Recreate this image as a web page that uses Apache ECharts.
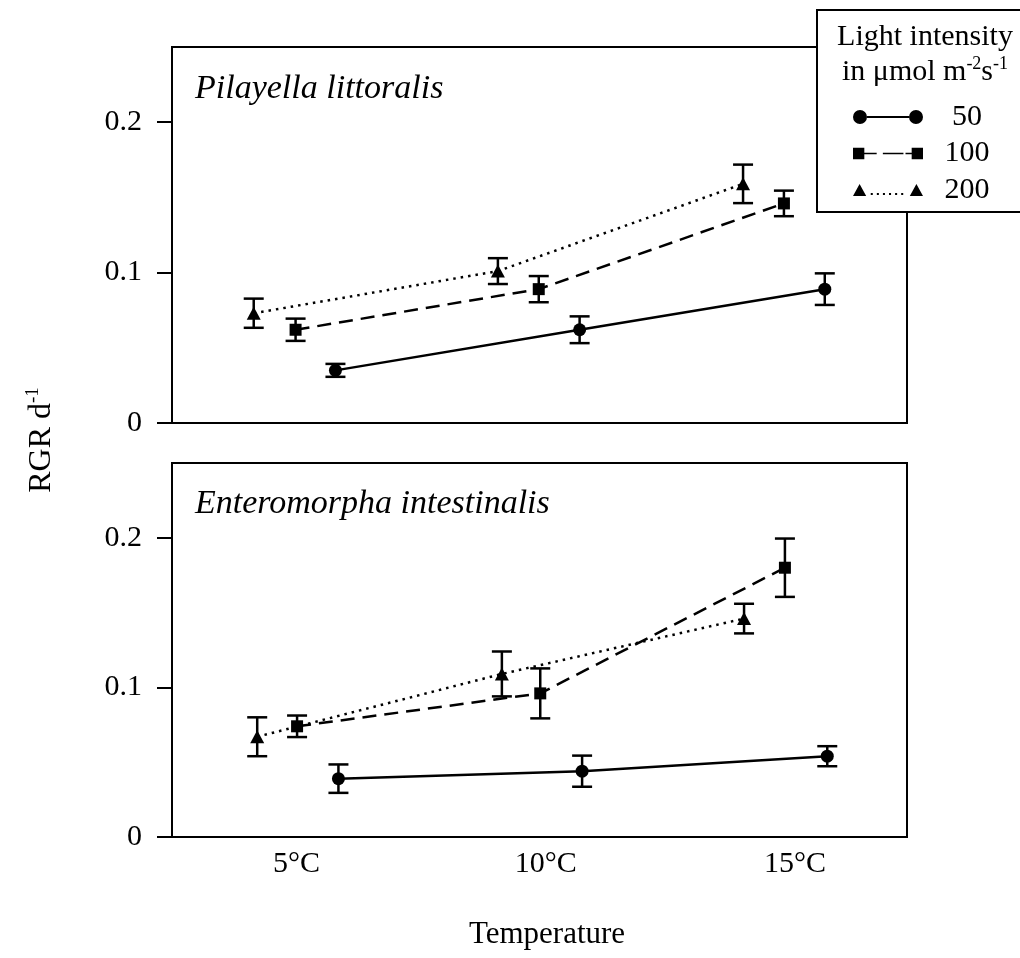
<!DOCTYPE html>
<html>
<head>
<meta charset="utf-8">
<script src="https://cdn.jsdelivr.net/npm/echarts@6/dist/echarts.min.js"></script>
<style>
  html, body { margin: 0; padding: 0; background: #fff; }
  #chart { width: 1020px; height: 958px; }
</style>
</head>
<body>
<div id="chart"></div>
<script>
const SERIF = "'Liberation Serif', 'Times New Roman', serif";

// Categories and tick labels
const lightLevels = ['50', '100', '200'];
const tempTicks = [5, 10, 15];
const tempTickLabels = ['5°C', '10°C', '15°C'];
const rgrTicks = [0, 0.1, 0.2];
const speciesNames = ['Pilayella littoralis', 'Enteromorpha intestinalis'];

// Pilayella littoralis: plotted temperature position, mean RGR, standard error
const pilX50 = [5.78, 10.68, 15.6];
const pilRGR50 = [0.035, 0.062, 0.089];
const pilSE50 = [0.0043, 0.0089, 0.0105];
const pilX100 = [4.98, 9.86, 14.78];
const pilRGR100 = [0.062, 0.089, 0.146];
const pilSE100 = [0.0074, 0.0087, 0.0085];
const pilX200 = [4.14, 9.04, 13.96];
const pilRGR200 = [0.073, 0.101, 0.159];
const pilSE200 = [0.0097, 0.0086, 0.0128];

// Enteromorpha intestinalis
const entX50 = [5.84, 10.73, 15.65];
const entRGR50 = [0.039, 0.044, 0.054];
const entSE50 = [0.0095, 0.0104, 0.0067];
const entX100 = [5.01, 9.89, 14.8];
const entRGR100 = [0.074, 0.096, 0.180];
const entSE100 = [0.0072, 0.0167, 0.0195];
const entX200 = [4.21, 9.12, 13.98];
const entRGR200 = [0.067, 0.109, 0.146];
const entSE200 = [0.0130, 0.0150, 0.0099];

const panels = [
  { '50': [pilX50, pilRGR50, pilSE50], '100': [pilX100, pilRGR100, pilSE100], '200': [pilX200, pilRGR200, pilSE200] },
  { '50': [entX50, entRGR50, entSE50], '100': [entX100, entRGR100, entSE100], '200': [entX200, entRGR200, entSE200] }
];

// Marker and line look for each light level
const levelStyle = {
  '50':  { symbol: 'circle',   symbolSize: 13,       lineType: 'solid',   lineWidth: 2.5 },
  '100': { symbol: 'rect',     symbolSize: 12,       lineType: [14, 8],   lineWidth: 2.5 },
  '200': { symbol: 'triangle', symbolSize: [14, 13], lineType: [2.5, 5],  lineWidth: 2.5 }
};

// Legend icons: marker at each end with the series line between
const legendIcons = {
  '50': 'path://M0,7A7,7,0,1,1,14,7A7,7,0,1,1,0,7Z M56,7A7,7,0,1,1,70,7A7,7,0,1,1,56,7Z M14,6H56V8H14Z',
  '100': 'path://M1,1.5H12V12.5H1Z M58,1.5H69V12.5H58Z M12,6.2H24V7.8H12Z M30,6.2H50V7.8H30Z M52,6.2H58V7.8H52Z',
  '200': 'path://M0.5,13L7,1L13.5,13Z M56.5,13L63,1L69.5,13Z M18,10H20V12H18Z M24,10H26V12H24Z M30,10H32V12H30Z M36,10H38V12H36Z M42,10H44V12H42Z M48,10H50V12H48Z'
};

function errorBars(name, xs, ys, se, gi) {
  return {
    type: 'custom',
    name: name,
    xAxisIndex: gi,
    yAxisIndex: gi,
    silent: true,
    z: 3,
    data: xs.map((x, i) => [x, ys[i] - se[i], ys[i] + se[i]]),
    renderItem: function (params, api) {
      const lo = api.coord([api.value(0), api.value(1)]);
      const hi = api.coord([api.value(0), api.value(2)]);
      const hw = 10;
      const st = { stroke: '#000', lineWidth: 2.5 };
      return {
        type: 'group',
        children: [
          { type: 'line', shape: { x1: lo[0], y1: lo[1], x2: hi[0], y2: hi[1] }, style: st },
          { type: 'line', shape: { x1: lo[0] - hw, y1: lo[1], x2: lo[0] + hw, y2: lo[1] }, style: st },
          { type: 'line', shape: { x1: hi[0] - hw, y1: hi[1], x2: hi[0] + hw, y2: hi[1] }, style: st }
        ]
      };
    }
  };
}

const series = [];
panels.forEach((panel, gi) => {
  lightLevels.forEach(level => {
    const [xs, ys, se] = panel[level];
    const s = levelStyle[level];
    series.push({
      type: 'line',
      name: level,
      xAxisIndex: gi,
      yAxisIndex: gi,
      data: xs.map((x, i) => [x, ys[i]]),
      symbol: s.symbol,
      symbolSize: s.symbolSize,
      showAllSymbol: true,
      itemStyle: { color: '#000', borderWidth: 0 },
      lineStyle: { color: '#000', width: s.lineWidth, type: s.lineType },
      z: 4
    });
    series.push(errorBars(level, xs, ys, se, gi));
  });
});

const gridBase = { left: 172, width: 735, show: true, borderColor: '#000', borderWidth: 2,
  backgroundColor: 'transparent', containLabel: false, outerBoundsMode: 'none' };

const labelFont = { fontFamily: SERIF, fontSize: 30, color: '#000' };

function xAxisFor(gi, showLabels) {
  return {
    type: 'value', gridIndex: gi, min: 2.5, max: 17.25,
    axisLine: { show: false }, axisTick: { show: false }, splitLine: { show: false },
    axisLabel: Object.assign({
      show: showLabels, margin: 12,
      customValues: tempTicks,
      formatter: v => tempTickLabels[tempTicks.indexOf(v)] || ''
    }, labelFont)
  };
}

function yAxisFor(gi) {
  return {
    type: 'value', gridIndex: gi, min: 0, max: 0.25,
    axisLine: { show: false }, splitLine: { show: false },
    axisTick: { show: true, inside: false, length: 15, customValues: rgrTicks,
      lineStyle: { color: '#000', width: 2 } },
    axisLabel: Object.assign({
      margin: 30, customValues: rgrTicks,
      formatter: v => (v === 0 ? '0' : v.toFixed(1))
    }, labelFont)
  };
}

const titleStyle = { fontFamily: SERIF, fontStyle: 'italic', fontWeight: 'normal', fontSize: 34, color: '#000' };

const option = {
  backgroundColor: '#fff',
  animation: false,
  title: [
    { text: speciesNames[0], left: 195, top: 72, padding: 0, textStyle: titleStyle },
    { text: speciesNames[1], left: 195, top: 487, padding: 0, textStyle: titleStyle }
  ],
  grid: [
    Object.assign({ top: 47, height: 376 }, gridBase),
    Object.assign({ top: 463, height: 374 }, gridBase)
  ],
  xAxis: [xAxisFor(0, false), xAxisFor(1, true)],
  yAxis: [yAxisFor(0), yAxisFor(1)],
  legend: {
    orient: 'vertical',
    left: 853,
    top: 102,
    padding: 0,
    itemWidth: 70,
    itemHeight: 14,
    itemGap: 6.5,
    z: 20,
    itemStyle: { borderWidth: 0 },
    data: lightLevels.map(l => ({ name: l, icon: legendIcons[l] })),
    formatter: name => '{c|' + name + '}',
    textStyle: {
      rich: { c: { width: 78, align: 'center', fontFamily: SERIF, fontSize: 30, lineHeight: 30, color: '#000' } }
    }
  },
  graphic: [
    { type: 'rect', z: 10, shape: { x: 817, y: 10, width: 220, height: 202 },
      style: { fill: '#fff', stroke: '#000', lineWidth: 2 } },
    { type: 'text', z: 11, x: 925, y: 37,
      style: { text: 'Light intensity', fontFamily: SERIF, fontSize: 30, fill: '#000',
        align: 'center', verticalAlign: 'middle' } },
    { type: 'text', z: 11, x: 925, y: 72,
      style: { text: '{t|in μmol m}{s|-2}{t|s}{s|-1}', align: 'center', verticalAlign: 'middle',
        rich: {
          t: { fontFamily: SERIF, fontSize: 30, lineHeight: 34, fill: '#000' },
          s: { fontFamily: SERIF, fontSize: 18, lineHeight: 18, verticalAlign: 'top', fill: '#000' }
        } } },
    { type: 'text', z: 11, x: 42, y: 440, rotation: Math.PI / 2,
      style: { text: '{r|RGR d}{s|-1}', align: 'center', verticalAlign: 'middle',
        rich: {
          r: { fontFamily: SERIF, fontSize: 32, lineHeight: 36, fill: '#000' },
          s: { fontFamily: SERIF, fontSize: 19, lineHeight: 19, verticalAlign: 'top', fill: '#000' }
        } } },
    { type: 'text', z: 11, x: 547, y: 935,
      style: { text: 'Temperature', fontFamily: SERIF, fontSize: 31, fill: '#000',
        align: 'center', verticalAlign: 'middle' } }
  ],
  series: series
};

const chart = echarts.init(document.getElementById('chart'), null, { renderer: 'canvas' });
chart.setOption(option);
</script>
</body>
</html>
